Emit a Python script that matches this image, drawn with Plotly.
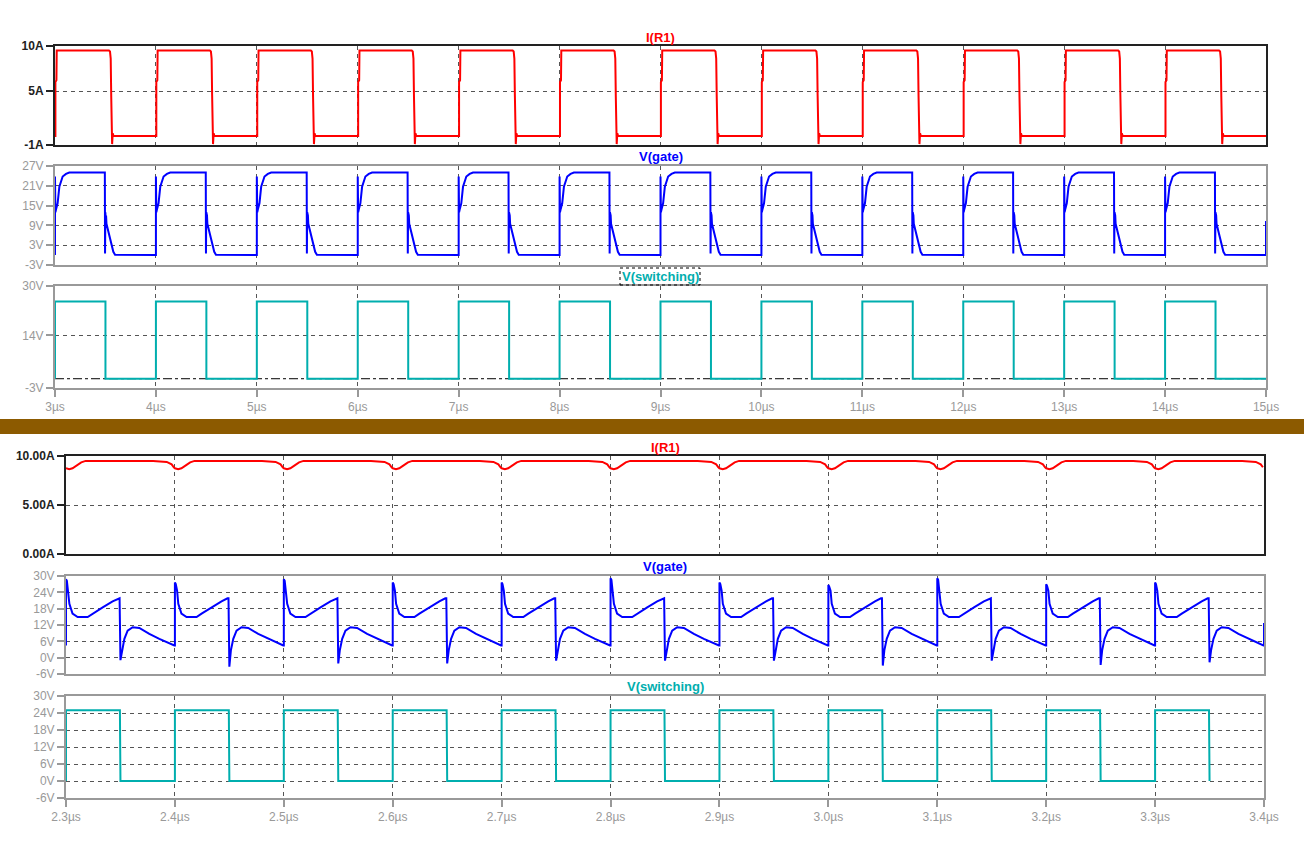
import plotly.graph_objects as go

W, H = 1304, 848

# ---------------- upper capture: 3 µs .. 15 µs (1 µs period) ----------------
top_cycle_starts = [3, 4, 5, 6, 7, 8, 9, 10, 11, 12, 13, 14]
top_end = 15

# I(R1), one period (offset µs, amps)
top_i_off = [0.000, 0.004, 0.004, 0.014, 0.017, 0.535, 0.545, 0.552, 0.557, 0.562, 0.566, 0.572, 0.580]
top_i_val = [0.0, 0.0, 6.0, 6.2, 9.5, 9.5, 9.4, 8.6, 4.5, 1.0, -0.9, 0.3, 0.0]

# V(gate), one period (offset µs, volts)
top_gate_off = [0.000, 0.000, 0.004, 0.010, 0.026, 0.043, 0.076, 0.109, 0.142, 0.494, 0.496,
                0.499, 0.503, 0.506, 0.510, 0.518, 0.528, 0.545, 0.562, 0.578, 0.595]
top_gate_val = [0.0, 23.8, 13.0, 13.8, 15.7, 20.7, 23.8, 24.6, 25.0, 25.0, 0.5,
                13.0, 10.5, 12.0, 9.5, 8.5, 7.6, 4.6, 2.6, 1.0, 0.1]

# V(switching), one period
top_sw_off = [0.0, 0.0, 0.5, 0.5]
top_sw_val = [0.0, 25.0, 25.0, 0.0]

top_end_i = [0.0]
top_end_gate = [0.0, 10.3]
top_end_sw = [0.0]

top_x_ticks = [3, 4, 5, 6, 7, 8, 9, 10, 11, 12, 13, 14, 15]
top_x_labels = ["3µs", "4µs", "5µs", "6µs", "7µs", "8µs", "9µs", "10µs", "11µs", "12µs", "13µs", "14µs", "15µs"]
top_i_ticks = [-1, 5, 10]
top_i_labels = ["-1A", "5A", "10A"]
top_gate_ticks = [-3, 3, 9, 15, 21, 27]
top_gate_labels = ["-3V", "3V", "9V", "15V", "21V", "27V"]
top_sw_ticks = [-3, 14, 30]
top_sw_labels = ["-3V", "14V", "30V"]

# ---------------- lower capture: 2.3 µs .. 3.4 µs (0.1 µs period) ----------------
bot_cycle_starts = [2.3, 2.4, 2.5, 2.6, 2.7, 2.8, 2.9, 3.0, 3.1, 3.2, 3.3]
bot_end = 3.4

bot_i_off = [0.000, 0.003, 0.006, 0.010, 0.014, 0.018, 0.030, 0.045, 0.055, 0.065, 0.080, 0.0925, 0.097, 0.099]
bot_i_val = [8.75, 8.65, 8.75, 9.05, 9.35, 9.50, 9.50, 9.50, 9.56, 9.50, 9.50, 9.40, 9.15, 8.85]

bot_gate_off = [0.0, 0.0, 0.0008, 0.002, 0.0031, 0.006, 0.0107, 0.0199, 0.0245, 0.0337, 0.0428, 0.0483,
                0.0492, 0.0500, 0.0514, 0.0536, 0.0566, 0.0612, 0.0673, 0.0765, 0.0857, 0.0949, 0.0995]
bot_gate_val = [4.5, None, None, 24.6, 19.8, 16.2, 14.9, 14.9, 16.2, 18.5, 20.7, 21.8,
                21.8, None, 2.7, 6.9, 9.9, 11.2, 10.9, 8.7, 6.9, 5.1, 4.5]
bot_gate_peak = [28.8, 27.6, 28.8, 27.6, 27.6, 29.2, 27.6, 26.7, 29.2, 27.0, 27.6]
bot_gate_dip = [-0.9, -3.3, -2.1, -2.1, -1.1, -1.1, -1.1, -2.9, -1.1, -2.7, -1.7]

bot_sw_off = [0.0, 0.0, 0.0495, 0.0495, 0.0500, 0.0500]
bot_sw_val = [0.0, 25.0, 25.0, 12.4, 12.4, 0.0]

bot_end_gate = [4.5, 12.7]

bot_x_ticks = [2.3, 2.4, 2.5, 2.6, 2.7, 2.8, 2.9, 3.0, 3.1, 3.2, 3.3, 3.4]
bot_x_labels = ["2.3µs", "2.4µs", "2.5µs", "2.6µs", "2.7µs", "2.8µs", "2.9µs", "3.0µs",
                "3.1µs", "3.2µs", "3.3µs", "3.4µs"]
bot_i_ticks = [0, 5, 10]
bot_i_labels = ["0.00A", "5.00A", "10.00A"]
bot_v_ticks = [-6, 0, 6, 12, 18, 24, 30]
bot_v_labels = ["-6V", "0V", "6V", "12V", "18V", "24V", "30V"]

RED, BLUE, TEAL = "#FF0000", "#0000FF", "#00AEAE"
GRAY, DARK, GRID = "#999999", "#222222", "#555555"
FONT = "Liberation Sans, Arial, sans-serif"


def tile(starts, offs, vals, end=None, end_vals=()):
    xs, ys = [], []
    for T in starts:
        for o, v in zip(offs, vals):
            xs.append(round(T + o, 6))
            ys.append(v)
    for v in end_vals:
        xs.append(end)
        ys.append(v)
    return xs, ys


def tile_gate(starts, offs, vals, peaks, dips, end, end_vals):
    xs, ys = [], []
    for T, p, d in zip(starts, peaks, dips):
        vv = list(vals)
        vv[1] = p
        vv[2] = p - 0.6
        vv[13] = d
        for o, v in zip(offs, vv):
            xs.append(round(T + o, 6))
            ys.append(v)
    for v in end_vals:
        xs.append(end)
        ys.append(v)
    return xs, ys


fig = go.Figure()
line_w = 2

x, y = tile(top_cycle_starts, top_i_off, top_i_val, top_end, top_end_i)
fig.add_trace(go.Scatter(x=x, y=y, mode="lines", line=dict(color=RED, width=line_w), xaxis="x", yaxis="y"))
x, y = tile(top_cycle_starts, top_gate_off, top_gate_val, top_end, top_end_gate)
fig.add_trace(go.Scatter(x=x, y=y, mode="lines", line=dict(color=BLUE, width=line_w), xaxis="x2", yaxis="y2"))
x, y = tile(top_cycle_starts, top_sw_off, top_sw_val, top_end, top_end_sw)
fig.add_trace(go.Scatter(x=x, y=y, mode="lines", line=dict(color=TEAL, width=line_w), xaxis="x3", yaxis="y3"))

x, y = tile(bot_cycle_starts, bot_i_off, bot_i_val)
fig.add_trace(go.Scatter(x=x, y=y, mode="lines", line=dict(color=RED, width=line_w), xaxis="x4", yaxis="y4"))
x, y = tile_gate(bot_cycle_starts, bot_gate_off, bot_gate_val, bot_gate_peak, bot_gate_dip, bot_end, bot_end_gate)
fig.add_trace(go.Scatter(x=x, y=y, mode="lines", line=dict(color=BLUE, width=line_w), xaxis="x5", yaxis="y5"))
x, y = tile(bot_cycle_starts, bot_sw_off, bot_sw_val)
fig.add_trace(go.Scatter(x=x, y=y, mode="lines", line=dict(color=TEAL, width=line_w), xaxis="x6", yaxis="y6"))


def py(p):
    return 1 - p / H


def xdom(a, b):
    return [a / W, b / W]


def ydom(top, bottom):
    return [py(bottom), py(top)]


def xax(domain, rng, ticks, labels, anchor, show, color):
    d = dict(domain=domain, range=rng, anchor=anchor, tickvals=ticks, ticktext=labels,
             showline=True, mirror=True, linecolor=color, linewidth=2, automargin=False,
             showgrid=True, gridcolor=GRID, griddash="4px,4px", gridwidth=1, zeroline=False,
             fixedrange=True)
    if show:
        d.update(ticks="outside", ticklen=7, tickwidth=2, tickcolor=GRAY, showticklabels=True,
                 tickfont=dict(family=FONT, size=12, color=GRAY))
    else:
        d.update(ticks="", showticklabels=False)
    return d


def yax(domain, rng, ticks, labels, anchor, color, fcolor, bold):
    return dict(domain=domain, range=rng, anchor=anchor, tickvals=ticks, ticktext=labels,
                showline=True, mirror=True, linecolor=color, linewidth=2, automargin=False,
                ticks="outside", ticklen=7, tickwidth=2, tickcolor=color,
                tickfont=dict(family=FONT, size=12, color=fcolor, weight="bold" if bold else "normal"),
                showgrid=True, gridcolor=GRID, griddash="4px,4px", gridwidth=1, zeroline=False,
                fixedrange=True)


tx = xdom(55, 1266)
bx = xdom(66, 1264)
layout = dict(
    width=W, height=H, margin=dict(l=0, r=0, t=0, b=0, pad=0, autoexpand=False),
    paper_bgcolor="white", plot_bgcolor="white", showlegend=False, hovermode=False,
    xaxis=xax(tx, [3, 15], top_x_ticks, top_x_labels, "y", False, DARK),
    xaxis2=xax(tx, [3, 15], top_x_ticks, top_x_labels, "y2", False, GRAY),
    xaxis3=xax(tx, [3, 15], top_x_ticks, top_x_labels, "y3", True, GRAY),
    xaxis4=xax(bx, [2.3, 3.4], bot_x_ticks, bot_x_labels, "y4", False, DARK),
    xaxis5=xax(bx, [2.3, 3.4], bot_x_ticks, bot_x_labels, "y5", False, GRAY),
    xaxis6=xax(bx, [2.3, 3.4], bot_x_ticks, bot_x_labels, "y6", True, GRAY),
    yaxis=yax(ydom(46, 145), [-1, 10], top_i_ticks, top_i_labels, "x", DARK, DARK, True),
    yaxis2=yax(ydom(166, 265), [-3, 27], top_gate_ticks, top_gate_labels, "x2", GRAY, GRAY, False),
    yaxis3=yax(ydom(286, 388), [-3, 30], top_sw_ticks, top_sw_labels, "x3", GRAY, GRAY, False),
    yaxis4=yax(ydom(456, 554), [0, 10], bot_i_ticks, bot_i_labels, "x4", DARK, DARK, True),
    yaxis5=yax(ydom(576, 674), [-6, 30], bot_v_ticks, bot_v_labels, "x5", GRAY, GRAY, False),
    yaxis6=yax(ydom(696, 798), [-6, 30], bot_v_ticks, bot_v_labels, "x6", GRAY, GRAY, False),
)
fig.update_layout(**layout)

titles = [("I(R1)", RED, 37, 660.5), ("V(gate)", BLUE, 156.5, 660.5), ("V(switching)", TEAL, 276.5, 660.5),
          ("I(R1)", RED, 447, 665), ("V(gate)", BLUE, 566.5, 665), ("V(switching)", TEAL, 686.5, 665)]
for txt, col, ypx, xpx in titles:
    fig.add_annotation(text=txt, x=xpx / W, y=py(ypx), xref="paper", yref="paper",
                       showarrow=False, xanchor="center", yanchor="middle",
                       font=dict(family=FONT, size=13, color=col, weight="bold"))

# selection box around the upper V(switching) label
fig.add_shape(type="rect", xref="paper", yref="paper", x0=620 / W, x1=700 / W,
              y0=py(285), y1=py(268), line=dict(color="black", width=1, dash="dot"))
# dash-dot reference line at 0 V in the upper V(switching) pane
fig.add_shape(type="line", xref="x3 domain", yref="y3", x0=0, x1=1, y0=0, y1=0,
              line=dict(color="black", width=1, dash="dashdot"), layer="below")
# brown separator between the two captures
fig.add_shape(type="rect", xref="paper", yref="paper", x0=0, x1=1, y0=py(434), y1=py(419),
              fillcolor="#8C5A00", line=dict(width=0))

fig.write_html(
    "out.html",
    config={"displayModeBar": False},
    post_script="document.body.style.margin='0';document.body.style.overflow='hidden';",
)
